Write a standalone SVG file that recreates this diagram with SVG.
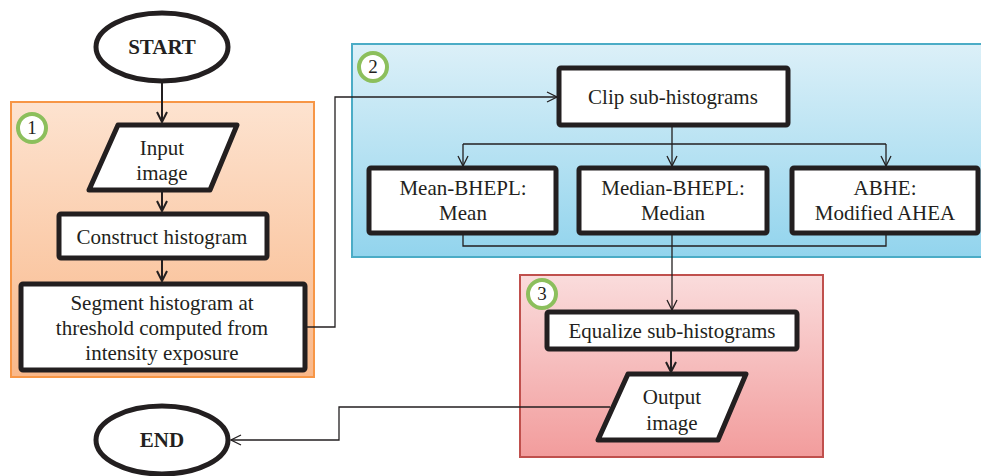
<svg xmlns="http://www.w3.org/2000/svg" width="981" height="476" viewBox="0 0 981 476">
<defs>
<linearGradient id="gOrange" x1="0" y1="0" x2="0" y2="1">
<stop offset="0" stop-color="#fde3d0"/><stop offset="1" stop-color="#f9b88a"/>
</linearGradient>
<linearGradient id="gBlue" x1="0" y1="0" x2="0" y2="1">
<stop offset="0" stop-color="#dcf0f8"/><stop offset="1" stop-color="#92d4ed"/>
</linearGradient>
<linearGradient id="gRed" x1="0" y1="0" x2="0" y2="1">
<stop offset="0" stop-color="#fadcdc"/><stop offset="1" stop-color="#f29c9c"/>
</linearGradient>
<marker id="arr" viewBox="0 0 12 12" refX="11" refY="6" markerWidth="12" markerHeight="12" markerUnits="userSpaceOnUse" orient="auto">
<path d="M1,1 L11,6 L1,11" fill="none" stroke="#231f20" stroke-width="1.3"/>
</marker>
<marker id="arrB" viewBox="0 0 12 12" refX="11" refY="6" markerWidth="12" markerHeight="12" markerUnits="userSpaceOnUse" orient="auto">
<path d="M1,1 L11,6 L1,11" fill="none" stroke="#231f20" stroke-width="2"/>
</marker>
</defs>
<style>
.node{fill:#ffffff;stroke:#231f20;stroke-width:5;stroke-linejoin:round}
text{font-family:'Liberation Serif','Tinos','Times New Roman','DejaVu Serif',serif}
.t{font-size:21px;fill:#231f20;text-anchor:middle}
.tb{font-weight:bold}
.badge{fill:#ffffff;stroke:#8cbf5c;stroke-width:4}
.bt{font-size:19px;fill:#231f20;text-anchor:middle}
.c{fill:none;stroke:#231f20;stroke-width:1.3}
.cb{fill:none;stroke:#231f20;stroke-width:2}
</style>

<g id="panel1">
<rect x="11" y="102" width="303" height="275" fill="url(#gOrange)" stroke="#f79646" stroke-width="2"/>
<circle class="badge" cx="32" cy="128" r="14"/>
<text class="bt" x="32" y="134" font-family="Liberation Serif, serif">1</text>
</g>
<g id="panel2">
<rect x="352" y="44" width="631" height="213" fill="url(#gBlue)" stroke="#4bacc6" stroke-width="2"/>
<circle class="badge" cx="373" cy="67" r="14"/>
<text class="bt" x="373" y="73" font-family="Liberation Serif, serif">2</text>
</g>
<g id="panel3">
<rect x="520" y="275" width="303" height="182" fill="url(#gRed)" stroke="#c0504d" stroke-width="2"/>
<circle class="badge" cx="542" cy="294" r="14"/>
<text class="bt" x="542" y="300" font-family="Liberation Serif, serif">3</text>
</g>

<g id="connectors">
<line class="cb" x1="162" y1="82" x2="162" y2="122" marker-end="url(#arrB)"/>
<line class="cb" x1="162" y1="190" x2="162" y2="211" marker-end="url(#arrB)"/>
<line class="cb" x1="162" y1="258" x2="162" y2="281" marker-end="url(#arrB)"/>
<polyline class="c" points="305,327 335,327 335,97 557,97" marker-end="url(#arr)"/>
<polyline class="c" points="672,125 672,144"/>
<polyline class="c" points="463,144 886,144"/>
<line class="c" x1="463" y1="144" x2="463" y2="166" marker-end="url(#arr)"/>
<line class="c" x1="672" y1="144" x2="672" y2="166" marker-end="url(#arr)"/>
<line class="c" x1="886" y1="144" x2="886" y2="166" marker-end="url(#arr)"/>
<polyline class="c" points="463,233 463,246 886,246 886,233"/>
<line class="c" x1="672" y1="233" x2="672" y2="310" marker-end="url(#arr)"/>
<line class="cb" x1="671" y1="349" x2="671" y2="372" marker-end="url(#arrB)"/>
<polyline class="c" points="610,407 339,407 339,440 231,440" marker-end="url(#arr)"/>
</g>

<g id="start">
<ellipse class="node" cx="162" cy="47" rx="66" ry="34"/>
<text class="t tb" x="162" y="54" font-family="Liberation Serif, serif">START</text>
</g>
<g id="input">
<polygon class="node" points="118,125 237,125 210,190 89,190"/>
<text class="t" x="162" y="155" font-family="Liberation Serif, serif">Input</text>
<text class="t" x="162" y="180" font-family="Liberation Serif, serif">image</text>
</g>
<g id="construct">
<rect class="node" x="59" y="214" width="208" height="44" rx="2"/>
<text class="t" x="162" y="244" font-family="Liberation Serif, serif">Construct histogram</text>
</g>
<g id="segment">
<rect class="node" x="21" y="284" width="284" height="86" rx="2"/>
<text class="t" x="162" y="310" font-family="Liberation Serif, serif">Segment histogram at</text>
<text class="t" x="162" y="335" font-family="Liberation Serif, serif">threshold computed from</text>
<text class="t" x="162" y="360" font-family="Liberation Serif, serif">intensity exposure</text>
</g>
<g id="clip">
<rect class="node" x="559" y="68" width="229" height="57" rx="2"/>
<text class="t" x="673" y="104" font-family="Liberation Serif, serif">Clip sub-histograms</text>
</g>
<g id="mean">
<rect class="node" x="369" y="168" width="187" height="65" rx="2"/>
<text class="t" x="463" y="195" font-family="Liberation Serif, serif">Mean-BHEPL:</text>
<text class="t" x="463" y="220" font-family="Liberation Serif, serif">Mean</text>
</g>
<g id="median">
<rect class="node" x="579" y="168" width="188" height="65" rx="2"/>
<text class="t" x="673" y="195" font-family="Liberation Serif, serif">Median-BHEPL:</text>
<text class="t" x="673" y="220" font-family="Liberation Serif, serif">Median</text>
</g>
<g id="abhe">
<rect class="node" x="792" y="168" width="186" height="65" rx="2"/>
<text class="t" x="885" y="195" font-family="Liberation Serif, serif">ABHE:</text>
<text class="t" x="885" y="220" font-family="Liberation Serif, serif">Modified AHEA</text>
</g>
<g id="equalize">
<rect class="node" x="547" y="312" width="250" height="37" rx="2"/>
<text class="t" x="672" y="338" font-family="Liberation Serif, serif">Equalize sub-histograms</text>
</g>
<g id="output">
<polygon class="node" points="628,374 746,374 718,440 598,440"/>
<text class="t" x="672" y="404" font-family="Liberation Serif, serif">Output</text>
<text class="t" x="672" y="430" font-family="Liberation Serif, serif">image</text>
</g>
<g id="end">
<ellipse class="node" cx="162" cy="440" rx="66" ry="34"/>
<text class="t tb" x="162" y="447" font-family="Liberation Serif, serif">END</text>
</g>
</svg>
